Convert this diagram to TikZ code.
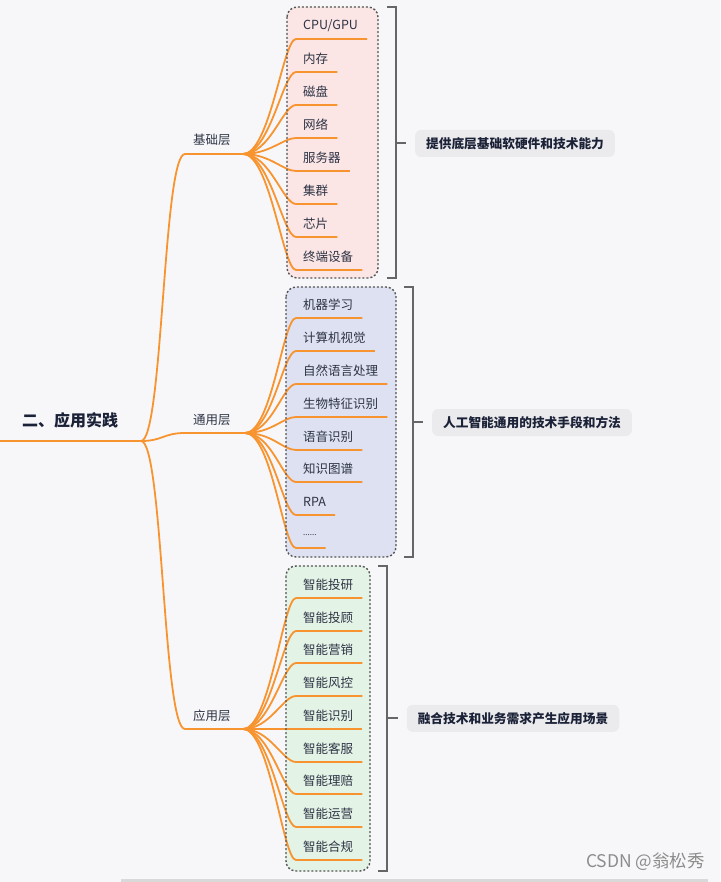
\documentclass[tikz,border=0pt]{standalone}
\usepackage{fontspec}
\setmainfont{Noto Sans CJK SC}
\definecolor{bgc}{HTML}{F7F7F9}
\definecolor{orangec}{HTML}{F7942F}
\definecolor{txtc}{HTML}{2E3445}
\definecolor{darktxt}{HTML}{1B2238}
\definecolor{pinkc}{HTML}{FBE5E5}
\definecolor{lavc}{HTML}{DDE1F2}
\definecolor{mintc}{HTML}{E3F3E6}
\definecolor{labc}{HTML}{EBEBED}
\definecolor{brkc}{HTML}{666666}
\definecolor{dotc}{HTML}{555555}
\tikzset{
  conn/.style={draw=orangec, line width=1.8pt},
  leaf/.style={anchor=west, inner sep=0pt, text=txtc, font=\fontsize{12.5}{14}\selectfont},
  lvl/.style={anchor=west, inner sep=0pt, text=txtc, font=\fontsize{12.5}{14}\selectfont},
  lab/.style={fill=labc, rounded corners=6pt, inner xsep=11pt, minimum height=27pt, text=darktxt, font=\bfseries\fontsize{12.7}{14}\selectfont},
  brk/.style={draw=brkc, line width=1.8pt},
  grpfill/.style={rounded corners=10pt},
  grpline/.style={draw=dotc, line width=1.4pt, dash pattern=on 2pt off 2pt, rounded corners=10pt}
}
\newcommand\leafitem[4]{%
  \node[leaf] (#1) at (303,#3-13) {#4};
  \path (#1.east) ++(9,0) coordinate (#1e);
  \coordinate (#1y) at (0,#3);
  \draw[conn] (#2) .. controls +(27,0) and +(-13,0) .. (296,#3) -- (#1e |- #1y);
}
\begin{document}
\begin{tikzpicture}[x=1pt,y=-1pt]
\useasboundingbox (0,0) rectangle (720,882);
\fill[bgc] (0,0) rectangle (720,882);
% group fills
\fill[pinkc,grpfill] (287,7) rectangle (378,278);
\fill[lavc,grpfill] (286,287) rectangle (396,557);
\fill[mintc,grpfill] (286,566) rectangle (370,871);
% root
\node[anchor=west, inner sep=0pt, text=darktxt, font=\bfseries\fontsize{16}{18}\selectfont] (root) at (22,420) {二、应用实践};
\coordinate (r0) at (0,441);
\coordinate (r) at (141,441);
\draw[conn] (r0) -- (r);
% level 1
\node[lvl] (n1) at (193,140) {基础层};
\node[lvl] (n2) at (193,420) {通用层};
\node[lvl] (n3) at (193,716) {应用层};
\coordinate (a1) at (185,154); \coordinate (b1) at (243,154);
\coordinate (a2) at (185,433); \coordinate (b2) at (245,433);
\coordinate (a3) at (185,729); \coordinate (b3) at (243,729);
\draw[conn] (r) .. controls (163,441) and (163,154) .. (a1) -- (b1);
\draw[conn] (r) .. controls (163,441) and (163,433) .. (a2) -- (b2);
\draw[conn] (r) .. controls (163,441) and (163,729) .. (a3) -- (b3);
% group 1 leaves
\leafitem{g1a}{b1}{39}{CPU/GPU}
\leafitem{g1b}{b1}{72}{内存}
\leafitem{g1c}{b1}{105}{磁盘}
\leafitem{g1d}{b1}{138}{网络}
\leafitem{g1e}{b1}{171}{服务器}
\leafitem{g1f}{b1}{204}{集群}
\leafitem{g1g}{b1}{237}{芯片}
\leafitem{g1h}{b1}{270}{终端设备}
% group 2 leaves
\leafitem{g2a}{b2}{318}{机器学习}
\leafitem{g2b}{b2}{351}{计算机视觉}
\leafitem{g2c}{b2}{384}{自然语言处理}
\leafitem{g2d}{b2}{417}{生物特征识别}
\leafitem{g2e}{b2}{450}{语音识别}
\leafitem{g2f}{b2}{482}{知识图谱}
\leafitem{g2g}{b2}{515}{RPA}
\leafitem{g2h}{b2}{548}{\fontsize{8}{10}\selectfont ......}
% group 3 leaves
\leafitem{g3a}{b3}{598}{智能投研}
\leafitem{g3b}{b3}{631}{智能投顾}
\leafitem{g3c}{b3}{663}{智能营销}
\leafitem{g3d}{b3}{696}{智能风控}
\leafitem{g3e}{b3}{729}{智能识别}
\leafitem{g3f}{b3}{762}{智能客服}
\leafitem{g3g}{b3}{794}{智能理赔}
\leafitem{g3h}{b3}{827}{智能运营}
\leafitem{g3i}{b3}{860}{智能合规}
% group borders
\draw[grpline] (287,7) rectangle (378,278);
\draw[grpline] (286,287) rectangle (396,557);
\draw[grpline] (286,566) rectangle (370,871);
% brackets
\draw[brk] (387,7) -- (396,7) -- (396,278) -- (387,278);
\draw[brk] (396,143) -- (406,143);
\draw[brk] (404,287) -- (413,287) -- (413,557) -- (404,557);
\draw[brk] (413,422) -- (423,422);
\draw[brk] (378,566) -- (387,566) -- (387,871) -- (378,871);
\draw[brk] (387,718) -- (398,718);
% labels
\node[lab] (l1) at (515,143.5) {提供底层基础软硬件和技术能力};
\node[lab] (l2) at (532,422.5) {人工智能通用的技术手段和方法};
\node[lab] (l3) at (513,718.3) {融合技术和业务需求产生应用场景};
% watermark and bar
\node[anchor=east, inner sep=0pt, text=black!45, font=\fontsize{17.5}{20}\selectfont] (wm) at (705,862) {CSDN @翁松秀};
\fill[black!15] (121,878.5) rectangle (708,882);
\end{tikzpicture}
\end{document}
